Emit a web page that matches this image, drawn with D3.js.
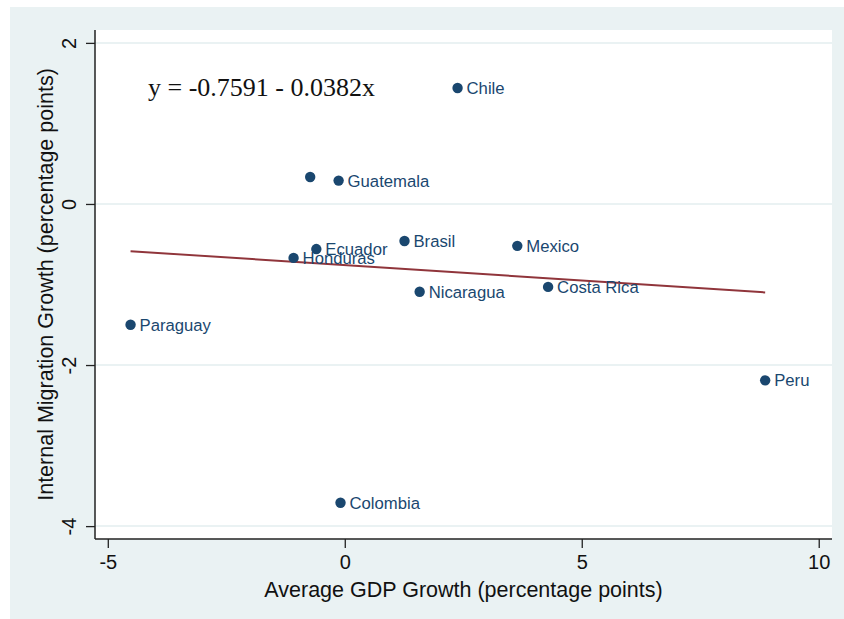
<!DOCTYPE html>
<html>
<head>
<meta charset="utf-8">
<script src="https://cdn.jsdelivr.net/npm/d3@7"></script>
<style>
  html, body { margin: 0; padding: 0; background: #ffffff; }
  svg { display: block; }
</style>
</head>
<body>
<svg id="chart" width="844" height="619"></svg>
<script>
// ---- data ----
const countries = ["Chile", "", "Guatemala", "Ecuador", "Honduras", "Brasil", "Mexico", "Nicaragua", "Costa Rica", "Paraguay", "Peru", "Colombia"];
const gdpGrowth = [2.38, -0.73, -0.13, -0.60, -1.08, 1.26, 3.64, 1.58, 4.29, -4.52, 8.87, -0.09];
const migrationGrowth = [1.44, 0.335, 0.29, -0.56, -0.67, -0.46, -0.52, -1.09, -1.03, -1.50, -2.19, -3.71];
const xTicks = [-5, 0, 5, 10];
const yTicks = [-4, -2, 0, 2];
const fitIntercept = -0.7591;
const fitSlope = -0.0382;
const equationText = "y = -0.7591 - 0.0382x";
const xTitle = "Average GDP Growth (percentage points)";
const yTitle = "Internal Migration Growth (percentage points)";

// ---- layout ----
const svg = d3.select("#chart");
const plot = { left: 95, right: 832, top: 30, bottom: 539 };
const navy = "#1A476F", maroon = "#90353B", bg = "#EAF2F3";

const x = d3.scaleLinear().domain([-5.27, 10.28]).range([plot.left, plot.right]);
const y = d3.scaleLinear().domain([-4.16, 2.16]).range([plot.bottom, plot.top]);

// graph region background
svg.append("rect").attr("x", 10).attr("y", 7).attr("width", 834).attr("height", 612).attr("fill", bg);
// plot region
svg.append("rect").attr("x", plot.left).attr("y", plot.top)
  .attr("width", plot.right - plot.left).attr("height", plot.bottom - plot.top).attr("fill", "#ffffff");

// gridlines
svg.append("g").selectAll("line").data(yTicks).join("line")
  .attr("x1", plot.left).attr("x2", plot.right)
  .attr("y1", d => y(d)).attr("y2", d => y(d))
  .attr("stroke", bg).attr("stroke-width", 2);

// axes
const xAxis = d3.axisBottom(x).tickValues(xTicks).tickSize(9).tickPadding(7).tickFormat(d3.format("d"));
const gx = svg.append("g").attr("transform", `translate(0,${plot.bottom})`).call(xAxis);
gx.select(".domain").attr("d", `M${plot.left},0H${plot.right}`).attr("stroke", "#222").attr("stroke-width", 1.5);
gx.selectAll(".tick line").attr("stroke", "#222").attr("stroke-width", 1.3);
gx.selectAll(".tick text").attr("font-family", "Liberation Sans, Arial, sans-serif").attr("font-size", 20).attr("fill", "#111")
  .text(d => d < 0 ? "-" + Math.abs(d) : d);

const yAxis = d3.axisLeft(y).tickValues(yTicks).tickSize(9).tickPadding(9).tickFormat(d3.format("d"));
const gy = svg.append("g").attr("transform", `translate(${plot.left},0)`).call(yAxis);
gy.select(".domain").attr("d", `M0,${plot.top}V${plot.bottom}`).attr("stroke", "#222").attr("stroke-width", 1.5);
gy.selectAll(".tick line").attr("stroke", "#222").attr("stroke-width", 1.3);
gy.selectAll(".tick text")
  .attr("font-family", "Liberation Sans, Arial, sans-serif").attr("font-size", 20).attr("fill", "#111")
  .attr("x", null).attr("dy", null)
  .attr("text-anchor", "middle")
  .attr("transform", "translate(-19,0) rotate(-90)")
  .text(d => d < 0 ? "-" + Math.abs(d) : d);

// axis titles
svg.append("text").attr("x", (plot.left + plot.right) / 2 + 0).attr("y", 597)
  .attr("text-anchor", "middle").attr("font-family", "Liberation Sans, Arial, sans-serif")
  .attr("font-size", 21.5).attr("fill", "#111").text(xTitle);
svg.append("text")
  .attr("transform", `translate(53,${(plot.top + plot.bottom) / 2}) rotate(-90)`)
  .attr("text-anchor", "middle").attr("font-family", "Liberation Sans, Arial, sans-serif")
  .attr("font-size", 21.5).attr("fill", "#111").text(yTitle);

// fit line
const xMin = d3.min(gdpGrowth), xMax = d3.max(gdpGrowth);
svg.append("line")
  .attr("x1", x(xMin)).attr("y1", y(fitIntercept + fitSlope * xMin))
  .attr("x2", x(xMax)).attr("y2", y(fitIntercept + fitSlope * xMax))
  .attr("stroke", maroon).attr("stroke-width", 2);

// points
const data = countries.map((c, i) => ({ name: c, gx: gdpGrowth[i], my: migrationGrowth[i] }));
svg.append("g").selectAll("circle").data(data).join("circle")
  .attr("cx", d => x(d.gx)).attr("cy", d => y(d.my)).attr("r", 5.2).attr("fill", navy);

svg.append("g").selectAll("text").data(data.filter(d => d.name)).join("text")
  .attr("x", d => x(d.gx) + 9).attr("y", d => y(d.my)).attr("dy", "0.36em")
  .attr("font-family", "Liberation Sans, Arial, sans-serif").attr("font-size", 16.7)
  .attr("fill", navy).text(d => d.name);

// equation
svg.append("text").attr("x", 148).attr("y", 96)
  .attr("font-family", "Liberation Serif, Times New Roman, serif").attr("font-size", 26)
  .attr("fill", "#111").text(equationText);
</script>
</body>
</html>
